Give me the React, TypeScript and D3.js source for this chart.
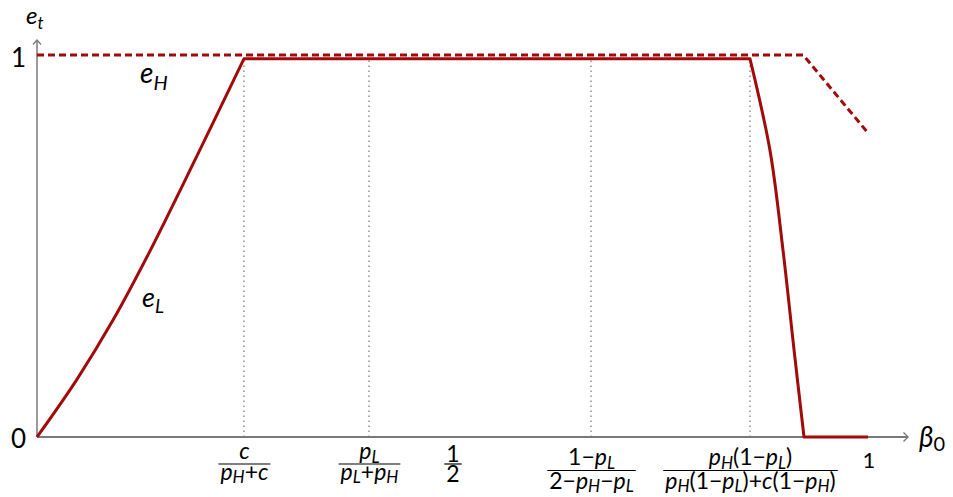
import React, { useRef, useEffect } from 'react';
import * as d3 from 'd3';

const W = 953;
const H = 497;

// e_L: rising part, plateau, falling part, zero tail
const eLRiseBeta = [0, 0.0475, 0.0915, 0.1348, 0.1925, 0.249];
const eLRiseValue = [0, 0.149, 0.306, 0.482, 0.736, 0.99];
const eLFallBeta = [0.858, 0.882, 0.8977, 0.911, 0.923];
const eLFallValue = [0.99, 0.751, 0.4895, 0.228, 0];
const eLTailBeta = [0.923, 1];
const eLTailValue = [0, 0];

// e_H dashed
const eHBeta = [0, 0.922, 1];
const eHValue = [1, 1, 0.796];

// x tick positions and labels
const tickBeta = [0.249, 0.3995, 0.5, 0.6667, 0.858];
const tickNum = ['c', 'p_L', '1', '1−p_L', 'p_H(1−p_L)'];
const tickDen = ['p_H+c', 'p_L+p_H', '2', '2−p_H−p_L', 'p_H(1−p_L)+c(1−p_H)'];
const dottedBeta = [0.249, 0.3995, 0.6667, 0.858];
const yTickValues = [0, 1];
const yTickLabels = ['0', '1'];

const RED = '#a20a0a';
const AXIS = '#7a7a7a';
const FONT = 'Lato, "Open Sans", sans-serif';

type Tok = { t: string; it: boolean; sub: boolean };

function parse(str: string): Tok[] {
  const toks: Tok[] = [];
  const chars = Array.from(str);
  for (let i = 0; i < chars.length; i++) {
    let c = chars[i];
    let sub = false;
    if (c === '_') {
      sub = true;
      i++;
      c = chars[i];
    }
    const it = /\p{L}/u.test(c);
    const last = toks[toks.length - 1];
    if (last && last.it === it && last.sub === sub) last.t += c;
    else toks.push({ t: c, it, sub });
  }
  return toks;
}

function rich(
  sel: any,
  str: string,
  x: number,
  y: number,
  size: number,
  subSize: number,
  subDy: number,
  anchor = 'start',
  upright0 = false
) {
  const text = sel
    .append('text')
    .attr('x', x)
    .attr('y', y)
    .attr('text-anchor', anchor)
    .attr('font-family', FONT)
    .attr('fill', '#000');
  let shifted = false;
  parse(str).forEach((tk) => {
    const ts = text
      .append('tspan')
      .text(tk.t)
      .attr('font-size', tk.sub ? subSize : size)
      .attr('font-style', tk.it && !(upright0 && tk.sub) ? 'italic' : 'normal');
    if (tk.sub && !shifted) {
      ts.attr('dy', subDy);
      shifted = true;
    } else if (!tk.sub && shifted) {
      ts.attr('dy', -subDy);
      shifted = false;
    }
  });
  return text;
}

export default function App() {
  const ref = useRef<SVGSVGElement>(null);

  useEffect(() => {
    const svg = d3.select(ref.current);
    svg.selectAll('*').remove();

    const x = d3.scaleLinear().domain([0, 1]).range([37, 868]);
    const y = d3.scaleLinear().domain([0, 1]).range([437, 55]);

    // dotted verticals
    svg
      .append('g')
      .selectAll('line')
      .data(dottedBeta)
      .join('line')
      .attr('x1', (d) => x(d))
      .attr('x2', (d) => x(d))
      .attr('y1', y(0))
      .attr('y2', y(0.99))
      .attr('stroke', '#777')
      .attr('stroke-width', 1.2)
      .attr('stroke-dasharray', '1.5,3.5');

    // axes
    const ax = svg.append('g').attr('fill', 'none').attr('stroke', AXIS);
    ax.append('line')
      .attr('x1', x(0))
      .attr('x2', 908)
      .attr('y1', y(0))
      .attr('y2', y(0))
      .attr('stroke-width', 2);
    ax.append('path')
      .attr('d', `M903.5,${y(0) - 4.5}L908,${y(0)}L903.5,${y(0) + 4.5}`)
      .attr('stroke-width', 1.4);
    ax.append('line')
      .attr('x1', x(0))
      .attr('x2', x(0))
      .attr('y1', y(0))
      .attr('y2', 40)
      .attr('stroke-width', 1.5);
    ax.append('path')
      .attr('d', `M${x(0) - 4},44.5L${x(0)},40L${x(0) + 4},44.5`)
      .attr('stroke-width', 1.3);

    // e_H dashed
    const lin = d3
      .line<number>()
      .x((_, i) => x(eHBeta[i]))
      .y((d) => y(d));
    svg
      .append('path')
      .attr('d', lin(eHValue))
      .attr('fill', 'none')
      .attr('stroke', RED)
      .attr('stroke-width', 3)
      .attr('stroke-dasharray', '7,4');

    // e_L solid, built from segments into one path
    const p = d3.path();
    let started = false;
    const ctx: any = {
      moveTo(a: number, b: number) {
        if (started) p.lineTo(a, b);
        else {
          p.moveTo(a, b);
          started = true;
        }
      },
      lineTo: (a: number, b: number) => p.lineTo(a, b),
      bezierCurveTo: (a: number, b: number, c: number, d: number, e: number, f: number) =>
        p.bezierCurveTo(a, b, c, d, e, f),
      quadraticCurveTo: (a: number, b: number, c: number, d: number) => p.quadraticCurveTo(a, b, c, d),
      closePath: () => {},
    };
    const seg = (bs: number[], vs: number[], curve: any) =>
      d3
        .line<number>()
        .x((_, i) => x(bs[i]))
        .y((d) => y(d))
        .curve(curve)
        .context(ctx)(vs);
    seg(eLRiseBeta, eLRiseValue, d3.curveCatmullRom.alpha(0.5));
    seg(eLFallBeta, eLFallValue, d3.curveCatmullRom.alpha(0.5));
    seg(eLTailBeta, eLTailValue, d3.curveLinear);
    svg
      .append('path')
      .attr('d', p.toString())
      .attr('fill', 'none')
      .attr('stroke', RED)
      .attr('stroke-width', 3)
      .attr('stroke-linejoin', 'round');

    // y labels
    yTickValues.forEach((v, i) => {
      svg
        .append('text')
        .attr('x', 26)
        .attr('y', y(v) + (v === 0 ? 10.5 : 12))
        .attr('text-anchor', 'end')
        .attr('font-family', FONT)
        .attr('font-size', 26)
        .text(yTickLabels[i]);
    });

    // axis titles
    rich(svg, 'e_t', 26, 24, 24, 17, 5);
    rich(svg, 'β_0', 919, 447, 28, 20, 4, 'start', true);
    rich(svg, 'e_H', 140, 83, 28, 20, 7);
    rich(svg, 'e_L', 142, 307, 27, 19, 6);

    // fraction tick labels
    const lowered = [false, false, false, true, true];
    tickBeta.forEach((b, i) => {
      const cx = x(b) + 0.5;
      const low = lowered[i];
      const plain = tickNum[i] === '1';
      const numY = low ? 465 : plain ? 462 : 459;
      const lineY = low ? 470.5 : 464;
      const denY = low ? 488.5 : plain ? 482 : 479.5;
      const g = svg.append('g');
      const n = rich(g, tickNum[i], cx, numY, 23, 17, 3.5, 'middle');
      const d = rich(g, tickDen[i], cx, denY, 23, 17, 3.5, 'middle');
      const w = Math.max(
        (n.node() as any).getBBox().width,
        (d.node() as any).getBBox().width
      ) + 4;
      g.append('line')
        .attr('x1', cx - w / 2)
        .attr('x2', cx + w / 2)
        .attr('y1', lineY)
        .attr('y2', lineY)
        .attr('stroke', '#000')
        .attr('stroke-width', 1.2);
    });

    svg
      .append('text')
      .attr('x', x(1) + 1)
      .attr('y', 468)
      .attr('text-anchor', 'middle')
      .attr('font-family', FONT)
      .attr('font-size', 22)
      .text('1');
  }, []);

  return (
    <svg
      ref={ref}
      width={W}
      height={H}
      style={{ position: 'absolute', left: 0, top: 0, background: '#fff' }}
    />
  );
}
